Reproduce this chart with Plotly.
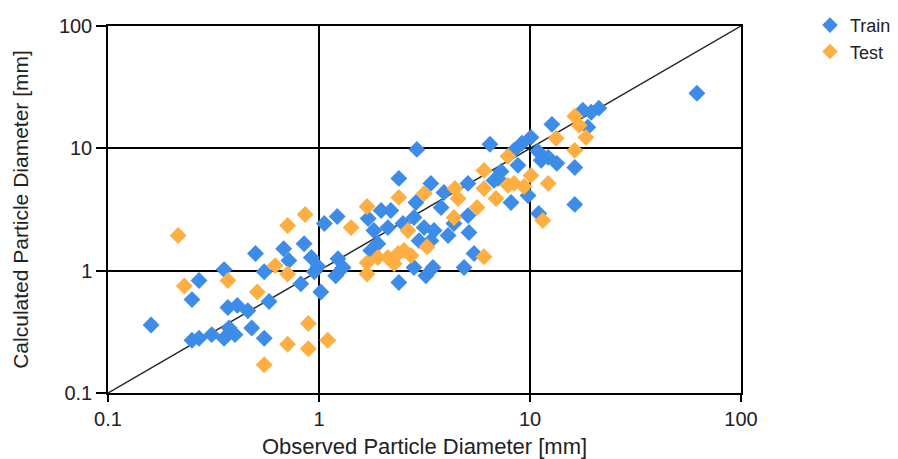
import plotly.graph_objects as go

# Train (blue) observed / calculated particle diameters [mm]
train_obs = [0.16, 0.27, 0.25, 0.355, 0.50, 0.55, 0.37, 0.41, 0.46, 0.25,
             0.27, 0.31, 0.355, 0.40, 0.375, 0.48, 0.55, 0.58, 0.68, 0.85,
             0.72, 0.92, 0.99, 0.95, 1.23, 1.30, 1.20, 0.82, 1.02, 1.06,
             1.22, 2.39, 1.71, 1.97, 1.82, 2.12, 2.39, 2.91, 6.46, 3.39,
             3.91, 5.08, 2.82, 3.15, 3.51, 3.39, 4.09, 5.14, 5.08, 8.13,
             7.05, 8.40, 5.43, 4.87, 3.47, 3.21, 2.82, 1.76, 1.90, 61.8,
             21.2, 19.5, 17.8, 12.7, 10.1, 9.16, 10.9, 12.2, 13.4, 16.3,
             8.77, 7.29, 6.75, 9.79, 16.3, 11.0, 18.8, 11.3, 2.88, 3.79,
             4.36, 2.19, 2.50, 2.98]
train_calc = [0.36, 0.83, 0.58, 1.02, 1.38, 0.98, 0.50, 0.52, 0.47, 0.27,
              0.28, 0.30, 0.28, 0.30, 0.34, 0.34, 0.28, 0.56, 1.51, 1.66,
              1.21, 1.28, 1.08, 0.98, 1.25, 1.06, 0.91, 0.78, 0.67, 2.43,
              2.77, 0.80, 2.67, 3.10, 2.13, 2.25, 5.68, 9.8, 10.8, 5.17,
              4.36, 5.17, 2.72, 2.25, 2.13, 1.76, 1.94, 2.05, 2.82, 3.61,
              5.68, 9.63, 1.38, 1.06, 1.06, 0.91, 1.06, 1.46, 1.66, 28.2,
              21.3, 19.7, 20.5, 15.7, 12.3, 11.0, 9.45, 8.44, 7.54, 6.98,
              7.26, 6.48, 5.47, 4.12, 3.48, 2.93, 14.9, 8.0, 3.61, 3.28,
              2.43, 3.10, 2.43, 1.76]

# Test (orange)
test_obs = [0.215, 0.23, 0.37, 0.51, 0.55, 0.62, 0.71, 0.71, 0.86, 1.42,
            0.89, 0.71, 0.89, 1.10, 1.69, 2.39, 3.15, 4.41, 4.56, 6.05,
            6.05, 6.90, 7.86, 5.61, 4.36, 2.64, 3.25, 6.05, 1.69, 1.69,
            1.90, 2.12, 2.37, 2.53, 2.73, 2.27, 16.3, 17.1, 18.4, 13.3,
            16.3, 7.86, 10.1, 12.2, 8.40, 9.37, 11.5]
test_calc = [1.94, 0.75, 0.83, 0.67, 0.17, 1.10, 0.94, 2.34, 2.88, 2.25,
             0.37, 0.25, 0.23, 0.27, 3.35, 3.97, 4.28, 4.70, 3.89, 6.60,
             4.70, 3.89, 4.98, 3.28, 2.72, 2.13, 1.57, 1.30, 1.16, 0.94,
             1.28, 1.28, 1.38, 1.46, 1.33, 1.14, 18.3, 15.4, 12.3, 12.1,
             9.63, 8.60, 6.01, 5.17, 5.17, 4.88, 2.57]

# 1:1 reference line ends and axis ticks
line_ends = [0.1, 100]
tick_vals = [0.1, 1, 10, 100]
tick_text = ["0.1", "1", "10", "100"]

BLUE = "rgb(60,140,232)"
ORANGE = "rgb(255,174,66)"
FONT = "Liberation Sans, Arial, sans-serif"

fig = go.Figure()
fig.add_trace(go.Scatter(x=line_ends, y=line_ends, mode="lines",
                         line=dict(color="rgb(40,40,40)", width=1.5),
                         showlegend=False, hoverinfo="skip"))
fig.add_trace(go.Scatter(x=train_obs, y=train_calc, mode="markers", name="Train",
                         marker=dict(symbol="diamond", size=13, color=BLUE,
                                     line=dict(width=0))))
fig.add_trace(go.Scatter(x=test_obs, y=test_calc, mode="markers", name="Test",
                         marker=dict(symbol="diamond", size=13, color=ORANGE,
                                     line=dict(width=0))))

axis_common = dict(
    type="log", range=[-1, 2], tickvals=tick_vals, ticktext=tick_text,
    showgrid=True, gridcolor="black", gridwidth=1.5,
    showline=True, linecolor="black", linewidth=1.5, mirror=True,
    ticks="outside", tickcolor="black", tickwidth=1.5,
    zeroline=False, tickfont=dict(family=FONT, size=20, color="#222"),
    automargin=False,
)

fig.update_layout(
    width=898, height=459, autosize=False,
    margin=dict(l=108, r=157, t=26, b=66),
    paper_bgcolor="white", plot_bgcolor="white",
    font=dict(family=FONT, color="#222"),
    xaxis=dict(**axis_common, ticklen=7,
               title=dict(text="Observed Particle Diameter [mm]",
                          font=dict(family=FONT, size=22, color="#222"), standoff=12)),
    yaxis=dict(**axis_common, ticklen=10,
               title=dict(text="Calculated Particle Diameter [mm]",
                          font=dict(family=FONT, size=21, color="#222"), standoff=25)),
    legend=dict(xref="container", yref="container", x=0.902, y=0.985,
                xanchor="left", yanchor="top",
                font=dict(family=FONT, size=18, color="#222"),
                bgcolor="rgba(0,0,0,0)", tracegroupgap=0, itemsizing="constant"),
)

fig.write_html(
    "out.html",
    config={"displayModeBar": False, "responsive": False},
    post_script="document.body.style.margin='0';document.body.style.overflow='hidden';",
)
